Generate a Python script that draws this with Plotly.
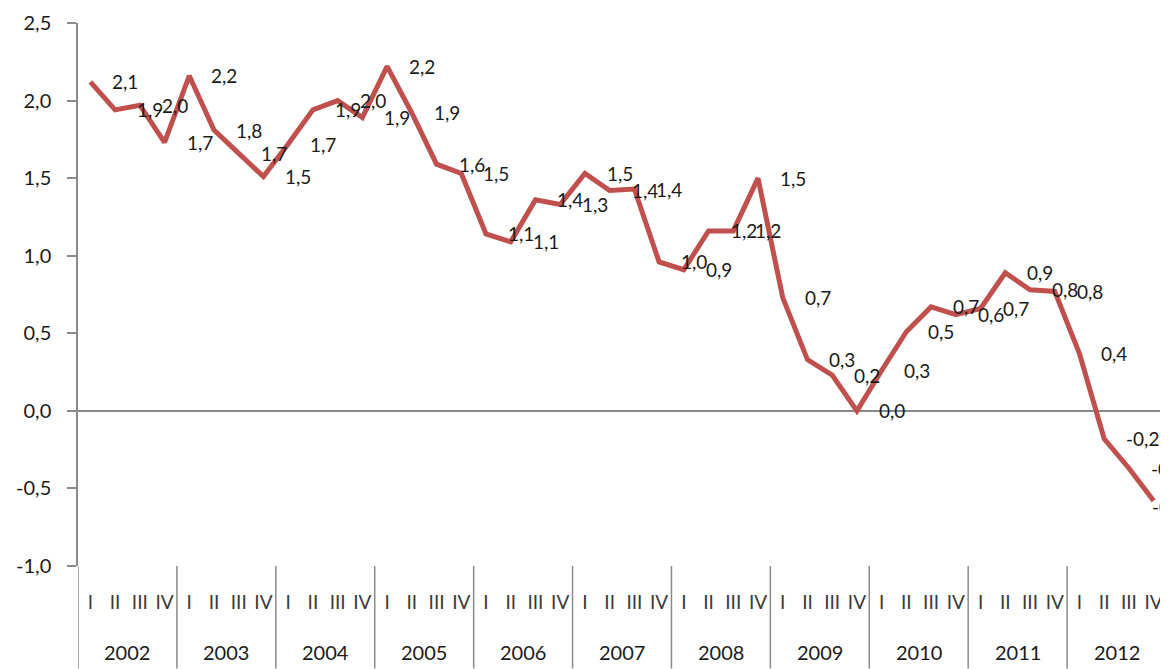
import plotly.graph_objects as go

years = ["2002", "2003", "2004", "2005", "2006", "2007", "2008", "2009", "2010", "2011", "2012"]
quarters = ["I", "II", "III", "IV"]
values = [
    2.12, 1.94, 1.97, 1.73,   # 2002
    2.16, 1.81, 1.66, 1.51,   # 2003
    1.72, 1.94, 2.00, 1.89,   # 2004
    2.22, 1.92, 1.59, 1.53,   # 2005
    1.14, 1.09, 1.36, 1.33,   # 2006
    1.53, 1.42, 1.43, 0.96,   # 2007
    0.91, 1.16, 1.16, 1.50,   # 2008
    0.73, 0.33, 0.23, 0.00,   # 2009
    0.26, 0.51, 0.67, 0.62,   # 2010
    0.66, 0.89, 0.78, 0.77,   # 2011
    0.37, -0.18, -0.37, -0.58 # 2012
]
y_ticks = [-1.0, -0.5, 0.0, 0.5, 1.0, 1.5, 2.0, 2.5]


def fmt(v):
    s = f"{v:.1f}".replace(".", ",")
    if s == "-0,0":
        s = "0,0"
    return s


n = len(values)
x_idx = list(range(n))
q_labels = [quarters[i % 4] for i in x_idx]

FONT = "Lato, 'Open Sans', sans-serif"
TXT = "#1a1a1a"
GRID = "#8a8a8a"

fig = go.Figure()
fig.add_trace(go.Scatter(
    x=x_idx, y=values, mode="lines",
    line=dict(color="#C0504D", width=5),
    hoverinfo="skip", showlegend=False,
))

# data labels to the right of each point (the last one is kept inside the chart area)
for i, v in enumerate(values):
    last = i == n - 1
    fig.add_annotation(
        x=i, y=v, xref="x", yref="y", text=fmt(v), showarrow=False,
        xanchor="left", yanchor="middle", xshift=-4 if last else 20,
        yshift=-6 if last else 0,
        font=dict(family=FONT, size=19, color=TXT),
    )

plot_h = 546
# year labels
for k, yr in enumerate(years):
    fig.add_annotation(
        x=4 * k + 1.5, y=-(652 - 566) / plot_h, xref="x", yref="paper",
        text=yr, showarrow=False, xanchor="center", yanchor="middle",
        font=dict(family=FONT, size=20, color=TXT),
    )

# group dividers in the category area
for k in range(len(years) + 1):
    fig.add_shape(
        type="line", xref="x", yref="paper",
        x0=4 * k - 0.5, x1=4 * k - 0.5, y0=0, y1=-103 / plot_h,
        line=dict(color=GRID, width=1.5),
    )

fig.update_layout(
    width=1160, height=661,
    margin=dict(l=70, r=2, t=12, b=103),
    paper_bgcolor="white", plot_bgcolor="white",
    font=dict(family=FONT, size=19, color=TXT),
    showlegend=False,
    xaxis=dict(
        range=[-0.5, n - 0.5], tickmode="array", tickvals=x_idx, ticktext=q_labels,
        showgrid=False, zeroline=False, showline=False, ticks="",
        ticklabelstandoff=23, tickfont=dict(family=FONT, size=19, color="#3a3a3a"),
        ticklabeloverflow="allow", fixedrange=True,
    ),
    yaxis=dict(
        range=[-1.0, 2.5], tickmode="array", tickvals=y_ticks,
        ticktext=[fmt(t) for t in y_ticks],
        showgrid=False, zeroline=True, zerolinecolor=GRID, zerolinewidth=1.5,
        showline=True, linecolor=GRID, linewidth=1.5,
        ticks="outside", ticklen=9, tickcolor=GRID, tickwidth=1.5,
        ticklabelstandoff=12, tickfont=dict(family=FONT, size=20, color=TXT),
        ticklabeloverflow="allow", fixedrange=True,
    ),
)

fig.write_html("out.html")
